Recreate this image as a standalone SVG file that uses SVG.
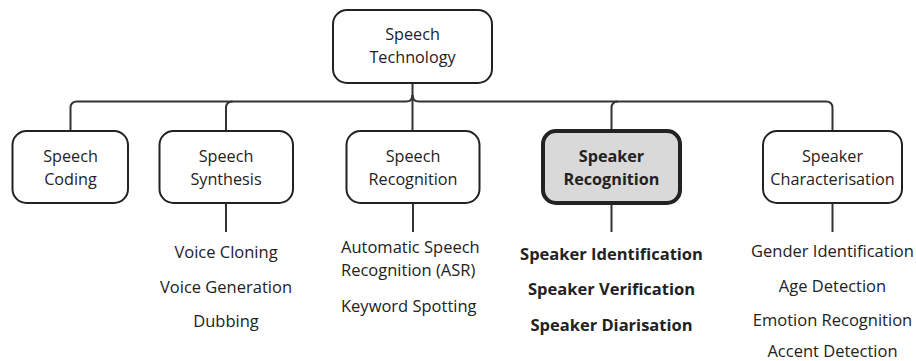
<svg xmlns="http://www.w3.org/2000/svg" width="916" height="361" viewBox="0 0 916 361">
<style>
.box{fill:#fff;stroke:#222;stroke-width:2}
.hl{fill:#d9d9d9;stroke:#222;stroke-width:4}
.lbl{font-family:"Open Sans",sans-serif;font-size:16.2px;fill:#222;text-anchor:middle}
.b{font-weight:bold}
.item{font-family:"Open Sans",sans-serif;font-size:16.5px;fill:#222;text-anchor:middle}
.start{text-anchor:start}
.conn path{fill:none;stroke:#333;stroke-width:2}
</style>
<rect width="916" height="361" fill="#fff"/>
<g class="conn" id="connectors">
<path d="M412.5 83 V131"/>
<path d="M412.5 95 Q412.5 101.5 406 101.5 H77 Q70.5 101.5 70.5 108 V131"/>
<path d="M412.5 95 Q412.5 101.5 419 101.5 H826 Q832.5 101.5 832.5 108 V131"/>
<path d="M226 131 V108 Q226 101.5 232.5 101.5"/>
<path d="M611.5 131 V108 Q611.5 101.5 618 101.5"/>
<path d="M226 203 V232"/>
<path d="M413 203 V232"/>
<path d="M611.5 203 V232"/>
<path d="M832.5 203 V232"/>
</g>
<g id="speech-technology">
<rect class="box" x="333" y="10" width="159" height="73" rx="14"/>
<text class="lbl" x="412.5" y="40">Speech</text>
<text class="lbl" x="412.5" y="63">Technology</text>
</g>
<g id="speech-coding">
<rect class="box" x="12.5" y="131" width="115.5" height="72" rx="14"/>
<text class="lbl" x="70.5" y="162">Speech</text>
<text class="lbl" x="70.5" y="185">Coding</text>
</g>
<g id="speech-synthesis">
<rect class="box" x="159.5" y="131" width="133.5" height="72" rx="14"/>
<text class="lbl" x="226" y="162">Speech</text>
<text class="lbl" x="226" y="185">Synthesis</text>
</g>
<g id="speech-recognition">
<rect class="box" x="346.5" y="131" width="133" height="72" rx="14"/>
<text class="lbl" x="413" y="162">Speech</text>
<text class="lbl" x="413" y="185">Recognition</text>
</g>
<g id="speaker-recognition">
<rect class="hl" x="543" y="131" width="137" height="72" rx="13"/>
<text class="lbl b" x="611.5" y="162">Speaker</text>
<text class="lbl b" x="611.5" y="185">Recognition</text>
</g>
<g id="speaker-characterisation">
<rect class="box" x="763" y="131" width="139" height="72" rx="14"/>
<text class="lbl" x="832.5" y="162">Speaker</text>
<text class="lbl" x="832.5" y="185">Characterisation</text>
</g>
<g id="synthesis-items">
<text class="item" x="226" y="258">Voice Cloning</text>
<text class="item" x="226" y="292.5">Voice Generation</text>
<text class="item" x="226" y="327">Dubbing</text>
</g>
<g id="recognition-items">
<text class="item start" x="341" y="253">Automatic Speech</text>
<text class="item start" x="341" y="276">Recognition (ASR)</text>
<text class="item start" x="341" y="311.5">Keyword Spotting</text>
</g>
<g id="speaker-items">
<text class="item b" x="611.5" y="260">Speaker Identification</text>
<text class="item b" x="611.5" y="295">Speaker Verification</text>
<text class="item b" x="611.5" y="330.5">Speaker Diarisation</text>
</g>
<g id="characterisation-items">
<text class="item" x="832.5" y="256.5">Gender Identification</text>
<text class="item" x="832.5" y="291.5">Age Detection</text>
<text class="item" x="832.5" y="326">Emotion Recognition</text>
<text class="item" x="832.5" y="356.5">Accent Detection</text>
</g>
</svg>
